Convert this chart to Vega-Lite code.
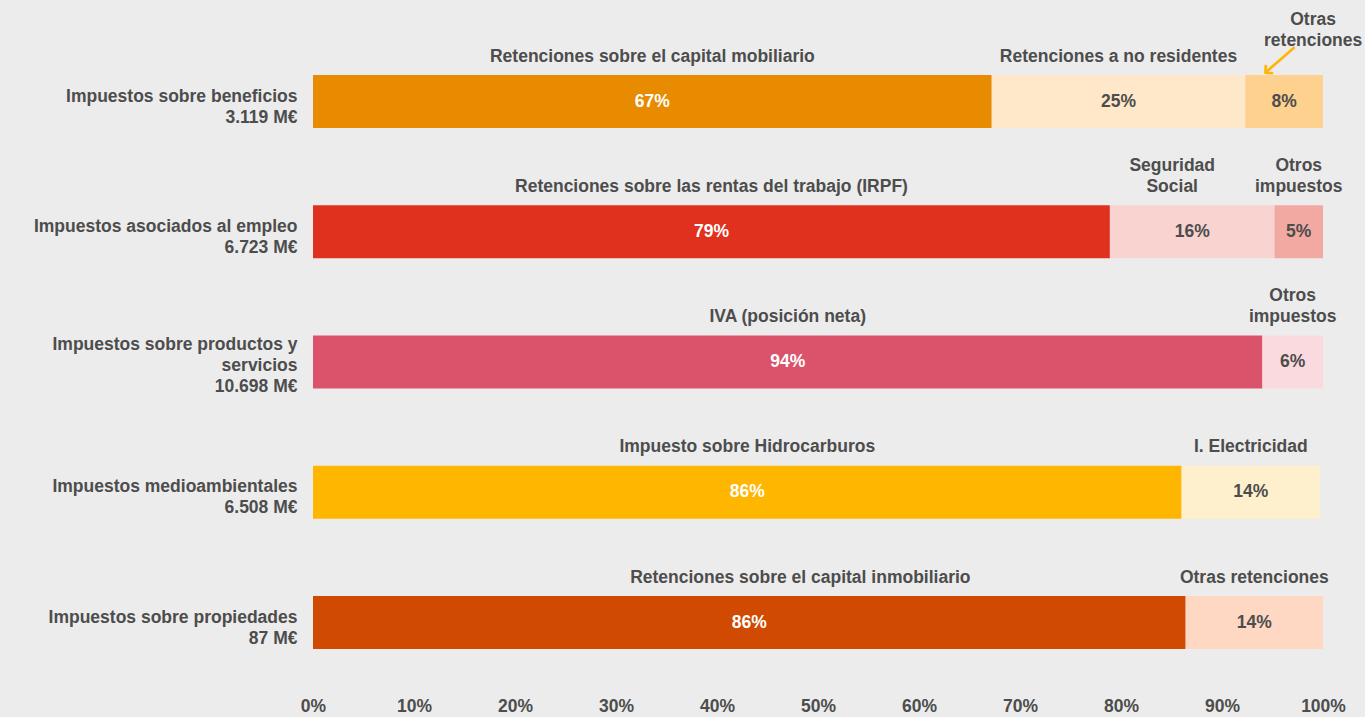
{
  "$schema": "https://vega.github.io/schema/vega-lite/v6.json",
  "autosize": {"type": "none"},
  "padding": {"left": 313, "top": 36.4, "right": 42, "bottom": 29.35},
  "width": 1010,
  "height": 651.25,
  "background": "#ececec",
  "config": {
    "font": "Liberation Sans",
    "view": {"stroke": null},
    "text": {"font": "Liberation Sans", "fontWeight": "bold", "fontSize": 17.5, "color": "#4d4d4d"}
  },
  "data": {
    "values": [
      {"cat": "Impuestos sobre beneficios|3.119 M€", "seg": "b1", "order": 1, "value": 67.2, "pct": "67%", "name": "Retenciones sobre el capital mobiliario"},
      {"cat": "Impuestos sobre beneficios|3.119 M€", "seg": "b2", "order": 2, "value": 25.1, "pct": "25%", "name": "Retenciones a no residentes"},
      {"cat": "Impuestos sobre beneficios|3.119 M€", "seg": "b3", "order": 3, "value": 7.7, "pct": "8%", "name": "Otras\nretenciones"},
      {"cat": "Impuestos asociados al empleo|6.723 M€", "seg": "e1", "order": 1, "value": 78.9, "pct": "79%", "name": "Retenciones sobre las rentas del trabajo (IRPF)"},
      {"cat": "Impuestos asociados al empleo|6.723 M€", "seg": "e2", "order": 2, "value": 16.3, "pct": "16%", "name": "Seguridad\nSocial"},
      {"cat": "Impuestos asociados al empleo|6.723 M€", "seg": "e3", "order": 3, "value": 4.8, "pct": "5%", "name": "Otros\nimpuestos"},
      {"cat": "Impuestos sobre productos y|servicios|10.698 M€", "seg": "p1", "order": 1, "value": 94.0, "pct": "94%", "name": "IVA (posición neta)"},
      {"cat": "Impuestos sobre productos y|servicios|10.698 M€", "seg": "p2", "order": 2, "value": 6.0, "pct": "6%", "name": "Otros\nimpuestos"},
      {"cat": "Impuestos medioambientales|6.508 M€", "seg": "m1", "order": 1, "value": 86.0, "pct": "86%", "name": "Impuesto sobre Hidrocarburos"},
      {"cat": "Impuestos medioambientales|6.508 M€", "seg": "m2", "order": 2, "value": 13.7, "pct": "14%", "name": "I. Electricidad"},
      {"cat": "Impuestos sobre propiedades|87 M€", "seg": "r1", "order": 1, "value": 86.4, "pct": "86%", "name": "Retenciones sobre el capital inmobiliario"},
      {"cat": "Impuestos sobre propiedades|87 M€", "seg": "r2", "order": 2, "value": 13.6, "pct": "14%", "name": "Otras retenciones"}
    ]
  },
  "transform": [
    {"stack": "value", "groupby": ["cat"], "sort": [{"field": "order", "order": "ascending"}], "as": ["x0", "x1"]},
    {"calculate": "(datum.x0 + datum.x1) / 2", "as": "mid"}
  ],
  "encoding": {
    "y": {
      "field": "cat", "type": "nominal", "sort": null, "title": null,
      "scale": {"paddingInner": 0.593, "paddingOuter": 0.2965},
      "axis": {
        "domain": false, "ticks": false, "tickSize": 0, "labelPadding": 16,
        "labelFontSize": 17.5, "labelFontWeight": "bold", "labelColor": "#4d4d4d",
        "labelFont": "Liberation Sans",
        "labelExpr": "split(datum.label, '|')", "labelLineHeight": 21, "labelLimit": 0,
        "labelOffset": {"condition": {"test": "indexof(datum.label, 'servicios') >= 0", "value": -17}, "value": -5}
      }
    }
  },
  "layer": [
    {
      "mark": {"type": "bar"},
      "encoding": {
        "x": {
          "field": "x0", "type": "quantitative", "title": null,
          "scale": {"domain": [0, 100], "nice": false},
          "axis": {
            "values": [0, 10, 20, 30, 40, 50, 60, 70, 80, 90, 100],
            "labelExpr": "datum.value + '%'",
            "domain": false, "ticks": false, "tickSize": 0, "grid": false,
            "labelFlush": false, "labelPadding": 10,
            "labelFontSize": 17.5, "labelFontWeight": "bold", "labelColor": "#4d4d4d",
            "labelFont": "Liberation Sans"
          }
        },
        "x2": {"field": "x1"},
        "color": {
          "field": "seg", "type": "nominal", "legend": null,
          "scale": {
            "domain": ["b1", "b2", "b3", "e1", "e2", "e3", "p1", "p2", "m1", "m2", "r1", "r2"],
            "range": ["#E88B00", "#FFE7CA", "#FFD18F", "#E0301E", "#F8D3CF", "#F2A9A2", "#DB536A", "#FADADE", "#FFB600", "#FFF0CD", "#D04A02", "#FFD8C3"]
          }
        }
      }
    },
    {
      "mark": {"type": "text", "align": "center", "baseline": "middle", "dy": 0},
      "encoding": {
        "x": {"field": "mid", "type": "quantitative"},
        "text": {"field": "pct"},
        "color": {"condition": {"test": "datum.order == 1", "value": "#ffffff"}, "value": "#4d4d4d"}
      }
    },
    {
      "transform": [{"filter": "indexof(datum.name, '\\n') < 0 && datum.seg != 'r1'"}],
      "mark": {"type": "text", "align": "center", "baseline": "bottom", "dy": -36},
      "encoding": {
        "x": {"field": "mid", "type": "quantitative"},
        "text": {"field": "name"}
      }
    },
    {
      "transform": [{"filter": "datum.seg == 'r1'"}],
      "mark": {"type": "text", "align": "center", "baseline": "bottom", "dy": -36, "dx": 51},
      "encoding": {
        "x": {"field": "mid", "type": "quantitative"},
        "text": {"field": "name"}
      }
    },
    {
      "transform": [{"filter": "indexof(datum.name, '\\n') >= 0 && datum.seg != 'b3' && datum.seg != 'e2'"}],
      "mark": {"type": "text", "align": "center", "baseline": "bottom", "dy": -57, "lineBreak": "\n", "lineHeight": 21},
      "encoding": {
        "x": {"field": "mid", "type": "quantitative"},
        "text": {"field": "name"}
      }
    },
    {
      "transform": [{"filter": "datum.seg == 'e2'"}],
      "mark": {"type": "text", "align": "center", "baseline": "bottom", "dy": -57, "dx": -20, "lineBreak": "\n", "lineHeight": 21},
      "encoding": {
        "x": {"field": "mid", "type": "quantitative"},
        "text": {"field": "name"}
      }
    },
    {
      "transform": [{"filter": "datum.seg == 'b3'"}],
      "mark": {"type": "text", "align": "center", "baseline": "bottom", "dy": -73, "dx": 29, "lineBreak": "\n", "lineHeight": 21},
      "encoding": {
        "x": {"field": "mid", "type": "quantitative"},
        "text": {"field": "name"}
      }
    },
    {
      "transform": [{"filter": "datum.seg == 'b3'"}],
      "mark": {"type": "text", "align": "center", "baseline": "middle", "dx": 23.9, "dy": -33.6, "angle": -41, "font": "DejaVu Sans", "fontWeight": "normal", "fontSize": 30, "color": "#FFB600", "text": "⟵"},
      "encoding": {
        "x": {"field": "mid", "type": "quantitative"}
      }
    }
  ]
}
